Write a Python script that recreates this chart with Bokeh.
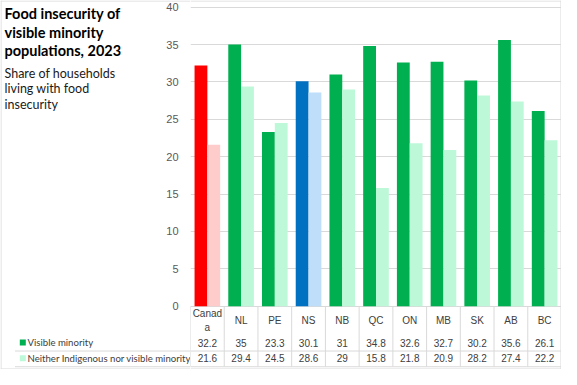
from bokeh.plotting import figure
from bokeh.layouts import row
from bokeh.models import (ColumnDataSource, FactorRange, Range1d, FixedTicker, Span, Grid)
from bokeh.transform import dodge
from bokeh.core.properties import value
from bokeh.embed import file_html
from bokeh.resources import INLINE

# ---- data ----
categories = ["Canada", "NL", "PE", "NS", "NB", "QC", "ON", "MB", "SK", "AB", "BC"]
category_labels = ["Canad\na", "NL", "PE", "NS", "NB", "QC", "ON", "MB", "SK", "AB", "BC"]
visible_minority = [32.2, 35, 23.3, 30.1, 31, 34.8, 32.6, 32.7, 30.2, 35.6, 26.1]
neither = [21.6, 29.4, 24.5, 28.6, 29, 15.8, 21.8, 20.9, 28.2, 27.4, 22.2]
series_names = ["Visible minority", "Neither Indigenous nor visible minority"]
y_ticks = [0, 5, 10, 15, 20, 25, 30, 35, 40]
y_tick_labels = ["0", "5", "10", "15", "20", "25", "30", "35", "40"]
title_lines = ["Food insecurity of", "visible minority", "populations, 2023"]
subtitle_lines = ["Share of households", "living with food", "insecurity"]

# ---- styles ----
VM_SPECIAL = {"Canada": "#FF0000", "NS": "#0070C0"}
NE_SPECIAL = {"Canada": "#FFCCCC", "NS": "#BFDEFA"}
VM_DEFAULT = "#00B050"
NE_DEFAULT = "#BDF8D8"
GRID = "#D9D9D9"
TXT = "#404040"

H = 369
LW = 190
RW = 561 - LW
Y0, Y1 = -8.47, 40.9
PX = H / (Y1 - Y0)          # pixels per unit on the value scale
TOP_EDGE = Y1 - 0.5 / PX
BOTTOM_EDGE = Y0 + 0.5 / PX

y_range = Range1d(Y0, Y1)
x_range = FactorRange(factors=categories, range_padding=0)

src = ColumnDataSource(dict(
    cat=categories,
    label=category_labels,
    vm=visible_minority,
    ne=neither,
    vm_txt=[f"{v:g}" for v in visible_minority],
    ne_txt=[f"{v:g}" for v in neither],
    vm_color=[VM_SPECIAL.get(c, VM_DEFAULT) for c in categories],
    ne_color=[NE_SPECIAL.get(c, NE_DEFAULT) for c in categories],
))

# ---- chart + table figure ----
p = figure(width=RW, height=H, x_range=x_range, y_range=y_range,
           output_backend="svg", toolbar_location=None, min_border=0,
           x_axis_location=None, y_axis_location=None)
p.outline_line_color = None
p.grid.visible = False
p.add_layout(Grid(dimension=1, ticker=FixedTicker(ticks=y_ticks), grid_line_color=GRID))

BW = 0.38
p.vbar(x=dodge("cat", -BW / 2, range=x_range), top="vm", width=BW, bottom=0,
       fill_color="vm_color", line_color=None, source=src)
p.vbar(x=dodge("cat", BW / 2, range=x_range), top="ne", width=BW, bottom=0,
       fill_color="ne_color", line_color=None, source=src)

# data table under the bars
Y_LAB, Y_R1, Y_SEP, Y_R2, Y_BOT = -1.9, -4.87, -6.0, -6.95, -8.1
common = dict(text_align="center", text_baseline="middle",
              text_font=value("Liberation Sans"), text_font_size="10px", text_color=TXT,
              source=src)
p.text(x="cat", y=Y_LAB, text="label", text_line_height=1.25, **common)
p.text(x="cat", y=Y_R1, text="vm_txt", **common)
p.text(x="cat", y=Y_R2, text="ne_txt", **common)
p.segment(x0=dodge("cat", -0.5, range=x_range), y0=0,
          x1=dodge("cat", -0.5, range=x_range), y1=Y_BOT,
          line_color=GRID, line_width=1, source=src)
for yy in (Y_SEP, Y_BOT, TOP_EDGE, BOTTOM_EDGE):
    p.add_layout(Span(location=yy, dimension="width", line_color=GRID, line_width=1))
p.add_layout(Span(location=len(categories) - 0.5 * len(categories) / RW, dimension="height",
                  line_color=GRID, line_width=1))

# ---- left panel: title, subtitle, value scale labels, table row keys ----
lp = figure(width=LW, height=H, x_range=Range1d(0, LW), y_range=y_range,
            output_backend="svg", toolbar_location=None, min_border=0,
            x_axis_location=None, y_axis_location=None)
lp.outline_line_color = None
lp.grid.visible = False

lp.text(x=[4] * 3, y=[39.1, 36.65, 34.2], text=title_lines,
        text_font=value("Lato"), text_font_style="bold", text_font_size="14.5px",
        text_baseline="middle", text_color="#000000")
lp.text(x=[4] * 3, y=[31.15, 29.1, 27.05], text=subtitle_lines,
        text_font=value("Lato"), text_font_size="12.5px",
        text_baseline="middle", text_color="#1a1a1a")
lp.text(x=[178] * len(y_ticks), y=y_ticks, text=y_tick_labels,
        text_align="right", text_baseline="middle",
        text_font=value("Liberation Sans"), text_font_size="11px", text_color="#595959")
lp.scatter(x=[22.3, 22.3], y=[Y_R1, Y_R2], marker="square", size=6,
           fill_color=[VM_DEFAULT, NE_DEFAULT], line_color=None)
lp.text(x=[27, 27], y=[Y_R1, Y_R2], text=series_names,
        text_font=value("Lato"), text_font_size="9.6px",
        text_baseline="middle", text_color=TXT)
lp.segment(x0=[14.5, 14.5], y0=[Y_SEP, Y_BOT], x1=[LW, LW], y1=[Y_SEP, Y_BOT],
           line_color=GRID, line_width=1)
# chart border
lp.segment(x0=[0, 0, 0.5], y0=[TOP_EDGE, BOTTOM_EDGE, Y0], x1=[LW, LW, 0.5], y1=[TOP_EDGE, BOTTOM_EDGE, Y1],
           line_color=GRID, line_width=1)

layout = row(lp, p)
open("out.html", "w").write(file_html(layout, INLINE))
